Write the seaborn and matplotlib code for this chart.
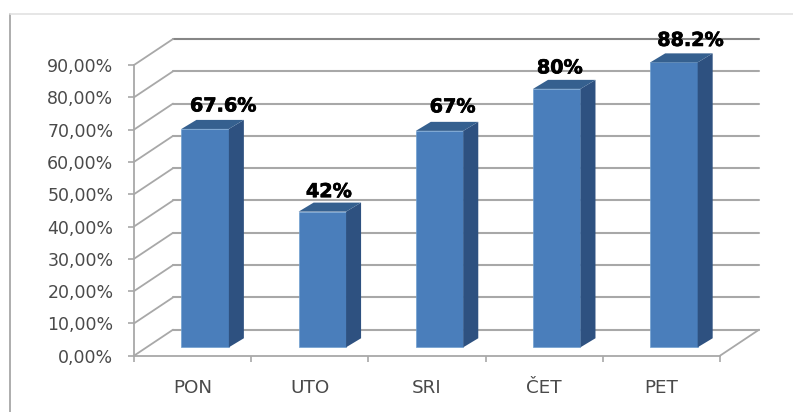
import matplotlib
matplotlib.use("Agg")
import matplotlib.pyplot as plt
import matplotlib.patheffects as pe
from matplotlib.lines import Line2D
from matplotlib.patches import Polygon
import numpy as np
import seaborn as sns

days = ["PON", "UTO", "SRI", "ČET", "PET"]
values = [67.6, 42, 67, 80, 88.2]
value_labels = ["67.6%", "42%", "67%", "80%", "88.2%"]
y_ticks = [0, 10, 20, 30, 40, 50, 60, 70, 80, 90]

# hand placed data labels, pixels from the middle of the bar top
label_dx = [18, 6.5, 13, 3, 16.5]
label_dy = [23, 20, 24, 21, 22]

W, H = 793, 412
GRID = "#a8a8a8"
FRONT = "#4a7ebb"
SIDE = "#2e5180"
TOP = "#35608f"

sns.set_theme(style="white")
plt.rcParams["font.family"] = ["DejaVu Sans"]

fig = plt.figure(figsize=(W / 100, H / 100), dpi=100)
ax = fig.add_axes([134 / W, (H - 355.7) / H, 586 / W, 290.7 / H])
ax.patch.set_alpha(0)

sns.barplot(x=days, y=values, color=FRONT, saturation=1, width=0.405, ax=ax, zorder=3,
            edgecolor="#6f9fd0", linewidth=0.5)
ax.set_xlim(-0.5, 4.5)
ax.set_ylim(0, 90)

# depth of the fake 3d box, in data units
wall_dx, wall_dy = 0.333, 8.05
bar_dx, bar_dy = 0.128, 2.8
shift_x, shift_y = 0.107, 2.6

# back wall and the diagonals running to it
for t in y_ticks:
    wall_color = "#868686" if t == y_ticks[-1] else GRID
    ax.plot([-0.5 + wall_dx, 4.5 + wall_dx], [t + wall_dy, t + wall_dy], color=wall_color, lw=1.5,
            clip_on=False, zorder=1)
    ax.plot([-0.5, -0.5 + wall_dx], [t, t + wall_dy], color=GRID, lw=1.3, clip_on=False, zorder=1)
ax.plot([4.5, 4.5 + wall_dx], [0, wall_dy], color=GRID, lw=1.3, clip_on=False, zorder=1)

# move the bars into the box and add the side and top faces
for i, p in enumerate(ax.patches):
    p.set_x(p.get_x() + shift_x)
    p.set_y(p.get_y() + shift_y)
    p.set_clip_on(False)
    x0 = p.get_x()
    x1 = x0 + p.get_width()
    y0 = p.get_y()
    y1 = y0 + p.get_height()
    ax.add_patch(Polygon([(x1, y0), (x1 + bar_dx, y0 + bar_dy), (x1 + bar_dx, y1 + bar_dy), (x1, y1)],
                         facecolor=SIDE, edgecolor="none", zorder=3, clip_on=False))
    ax.add_patch(Polygon([(x0, y1), (x1, y1), (x1 + bar_dx, y1 + bar_dy), (x0 + bar_dx, y1 + bar_dy)],
                         facecolor=TOP, edgecolor="none", zorder=3, clip_on=False))
    ax.annotate(value_labels[i], xy=((x0 + x1) / 2, y1),
                xytext=(label_dx[i] * 0.72, label_dy[i] * 0.72), textcoords="offset points",
                ha="center", va="center", fontsize=13.8, fontweight="bold", color="black",
                annotation_clip=False, zorder=5,
                path_effects=[pe.withStroke(linewidth=0.5, foreground="black")])

ax.set_xticks(np.arange(-0.5, 5, 1), minor=False)
ax.set_xticklabels([])
ax.set_xticks(range(len(days)), minor=True)
ax.set_xticklabels(days, minor=True)
ax.set_yticks(y_ticks)
ax.set_yticklabels([f"{t},00%" for t in y_ticks])
ax.set_xlabel("")
ax.set_ylabel("")

ax.tick_params(axis="x", which="major", bottom=True, length=4, width=1.2, color=GRID)
ax.tick_params(axis="x", which="minor", bottom=True, length=0, pad=17, labelsize=13.2, labelcolor="#4a4a4a")
ax.tick_params(axis="y", left=True, length=4.3, width=1.2, color=GRID, pad=10.5, labelsize=12.5,
               labelcolor="#4a4a4a")

sns.despine(ax=ax)
for side in ["left", "bottom"]:
    ax.spines[side].set_color(GRID)
    ax.spines[side].set_linewidth(1.3)

# frame of the pasted picture
fig.add_artist(Line2D([9.5 / W, 9.5 / W], [0, 1 - 14 / H], color="#a0a0a0", lw=1.2))
fig.add_artist(Line2D([9.5 / W, 1], [1 - 14 / H, 1 - 14 / H], color="#e2e2e2", lw=1.2))

fig.savefig("out.png", dpi=100)
plt.close(fig)
